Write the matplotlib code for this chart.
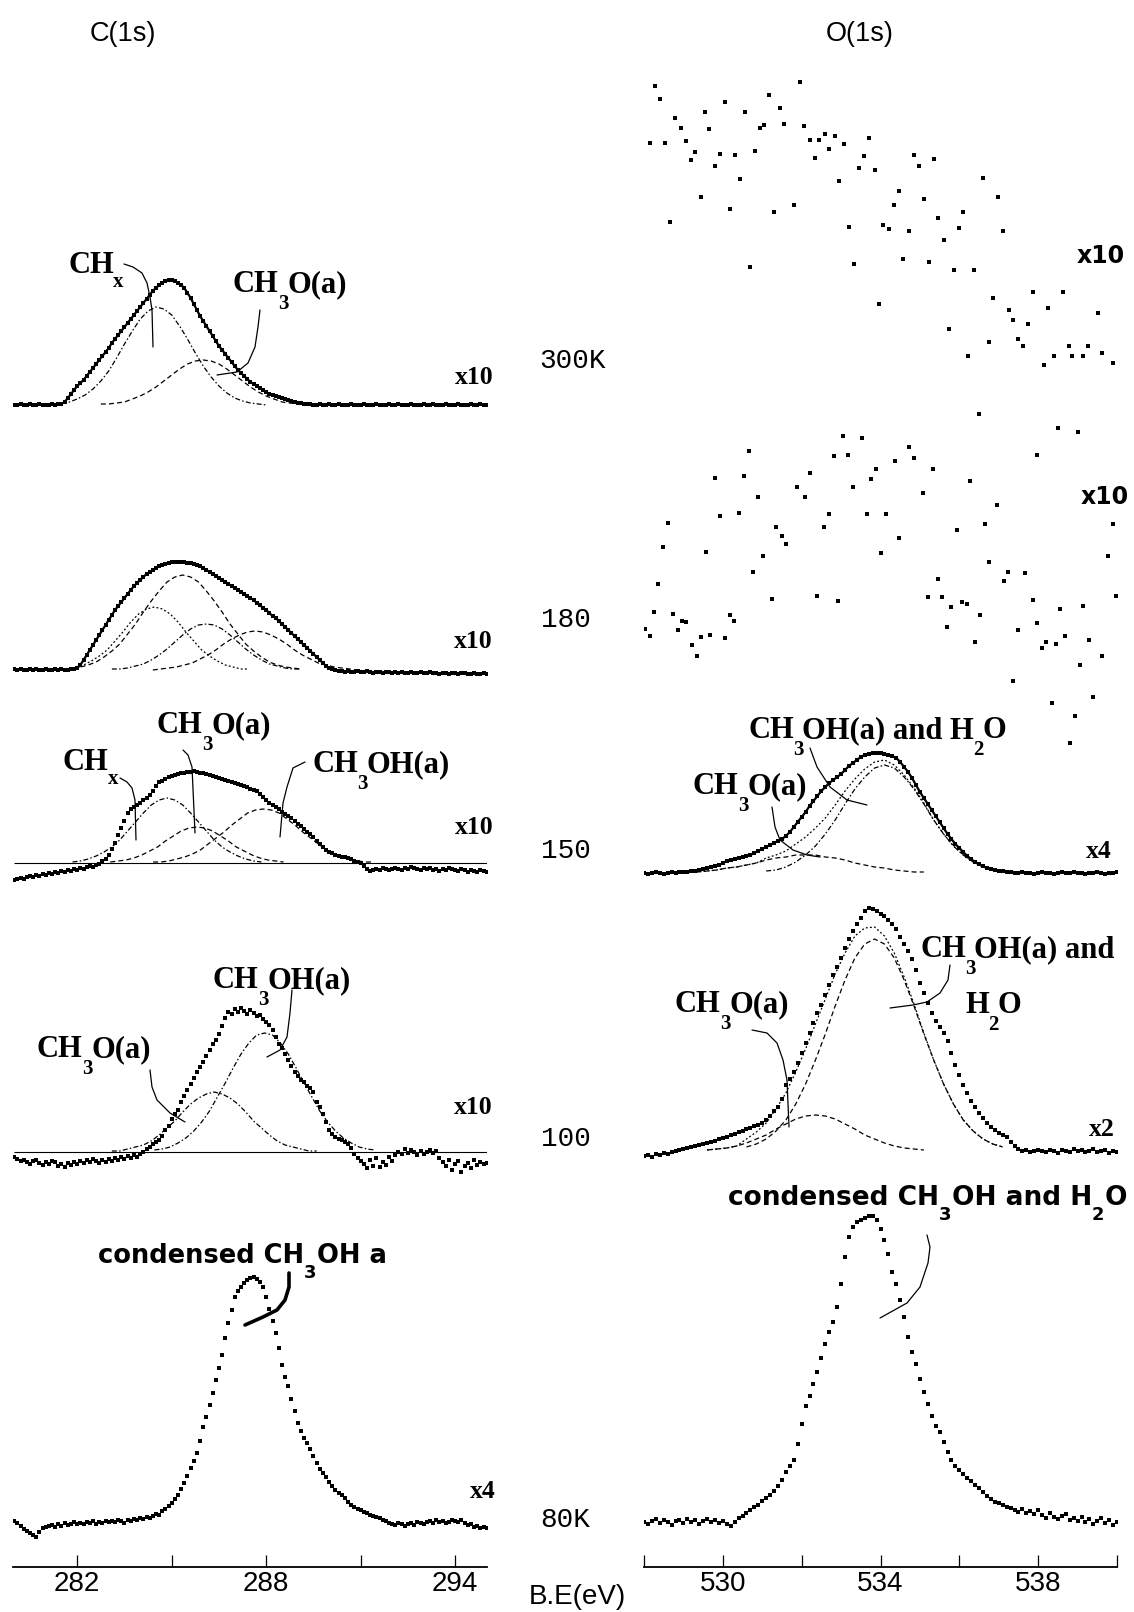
import numpy as np
import matplotlib
matplotlib.use("Agg")
import matplotlib.pyplot as plt
from matplotlib.transforms import Affine2D
from matplotlib.lines import Line2D

# ---------------- data (intensities in arbitrary units above each baseline) ----------------
C_START, C_STEP = 280.0, 0.1
O_START, O_STEP = 528.0, 0.1
FIT_STEP = 0.25

c300_counts = [0,0,1,0,0,1,0,0,1,0,0,
               0,1,0,1,1,3,7,11,15,19,
               22,25,29,33,37,41,45,49,53,57,
               62,66,70,74,78,82,86,90,94,98,
               102,106,110,114,117,120,122,124,125,125,
               124,122,120,117,112,107,101,95,89,84,
               79,74,69,64,59,55,51,47,43,39,
               35,32,29,26,23,21,19,17,15,13,
               11,10,9,8,7,6,5,4,3,2,
               2,1,1,1,0,0,1,0,0,1,
               0,0,1,0,0,0,1,0,0,0,
               1,0,0,0,1,0,0,0,1,0,
               0,1,0,0,0,1,0,0,0,1,
               0,0,1,0,0,0,1,0,0,0,
               1,0,0,0,1,0,0,1,0,0]

c180_counts = [1,0,1,0,0,1,0,1,0,0,1,
               0,0,1,0,1,0,0,1,1,2,
               5,10,15,20,25,30,35,40,45,50,
               55,60,64,68,72,76,80,84,87,90,
               93,96,98,100,102,104,105,106,107,108,
               108,108,108,108,107,107,106,105,104,102,
               100,98,96,94,92,90,88,86,84,82,
               80,78,76,74,72,70,67,65,62,60,
               57,54,52,49,46,43,40,37,34,31,
               28,25,22,19,16,13,10,7,4,2,
               1,0,-1,-1,-2,-1,-2,-2,-1,-2,
               -2,-1,-2,-3,-2,-2,-3,-2,-2,-3,
               -2,-3,-2,-3,-3,-2,-3,-3,-2,-3,
               -3,-2,-3,-3,-4,-3,-3,-4,-3,-3,
               -4,-3,-3,-4,-4,-3,-4,-4,-3,-4]

c150_counts = [-17,-16,-15,-16,-14,-13,-14,-12,-13,-11,-12,
               -10,-11,-9,-10,-8,-9,-7,-8,-6,-7,
               -5,-6,-4,-3,-4,-2,-1,2,4,8,
               14,20,28,35,42,50,54,56,58,60,
               63,65,68,72,77,81,82,84,86,87,
               88,89,90,90,91,91,92,91,90,90,
               89,88,87,86,85,84,83,82,81,80,
               79,78,77,76,74,73,72,69,66,63,
               60,58,56,54,51,49,47,45,42,39,
               37,34,31,29,26,22,19,16,13,11,
               10,8,7,6,6,5,4,2,1,0,
               -3,-6,-8,-7,-6,-7,-5,-6,-7,-6,
               -5,-6,-7,-5,-6,-4,-5,-6,-7,-5,
               -6,-5,-7,-6,-8,-6,-7,-5,-6,-7,
               -8,-6,-7,-9,-7,-8,-9,-7,-8,-9]

c100_counts = [-5,-7,-9,-8,-10,-12,-9,-8,-11,-13,-10,
               -12,-9,-10,-14,-12,-15,-11,-13,-10,-12,
               -9,-11,-8,-10,-7,-9,-11,-8,-10,-7,
               -9,-6,-8,-5,-7,-4,-6,-3,-5,-2,
               0,3,5,8,10,12,16,22,26,33,
               38,42,50,56,62,68,74,80,85,90,
               96,102,108,112,118,126,134,140,138,143,
               140,144,141,138,142,139,136,137,133,130,
               127,122,115,108,104,98,92,86,80,76,
               72,70,66,64,60,50,45,38,30,22,
               18,15,13,12,10,8,4,-2,-6,-9,
               -12,-16,-8,-14,-6,-15,-10,-13,-5,-9,
               -3,0,-2,3,-1,2,0,-3,1,-2,
               0,2,-1,1,-6,-10,-14,-8,-18,-12,
               -9,-20,-14,-11,-16,-8,-13,-10,-12,-11]

c80_counts = [2,0,-3,-6,-8,-10,-12,-14,-9,-5,-4,
              -3,-2,-4,-1,-3,0,-2,-1,1,-1,
              0,-1,1,0,2,-1,1,0,2,1,
              2,1,3,2,0,3,2,4,3,5,
              4,6,5,7,9,8,12,14,17,20,
              24,28,34,40,47,55,62,70,82,96,
              106,118,130,143,155,168,185,200,213,226,
              232,236,240,243,245,246,244,241,236,226,
              214,202,190,175,158,146,137,124,112,100,
              92,85,80,74,67,60,54,50,46,41,
              37,33,30,28,25,21,18,16,14,13,
              11,10,8,7,6,5,3,2,0,-1,
              -2,0,-1,-3,-1,0,-2,1,0,-1,
              1,2,0,3,1,2,0,1,3,2,
              1,3,0,-2,-1,-4,-3,-5,-4,-5]

o150_counts = [0,-1,0,1,0,-1,0,1,0,1,1,
               1,2,2,3,4,5,6,7,8,10,
               12,13,14,15,16,17,18,20,22,24,
               26,28,30,32,34,37,41,46,51,56,
               61,67,72,77,82,86,90,93,96,99,
               103,107,110,113,116,118,119,120,120,120,
               119,118,117,115,111,106,101,95,88,81,
               75,69,63,57,51,45,39,34,29,25,
               21,17,14,11,9,7,5,4,3,2,
               2,1,1,0,0,1,0,0,-1,0,
               1,0,0,-1,0,1,0,0,1,0,
               0,-1,0,0,1,0,-1,0,0,1]

o100_counts = [-5,-4,-6,-3,-4,-2,-3,-1,0,1,2,
               3,4,5,6,7,8,9,10,12,13,
               14,16,17,19,20,22,23,25,26,28,
               31,35,40,44,52,66,72,79,88,98,
               108,118,128,138,146,156,166,176,184,193,
               203,212,220,227,233,240,243,242,240,237,
               235,231,227,222,214,207,200,192,181,168,
               158,148,138,130,124,118,110,98,86,76,
               66,58,50,44,38,33,28,24,21,18,
               16,14,9,5,2,0,1,-1,0,1,
               0,-1,1,0,-2,1,0,-1,2,0,
               1,-1,0,2,-1,0,1,-2,0,-1]

o80_counts = [0,-2,1,3,-1,2,0,-3,1,2,-1,
              3,0,2,-2,1,3,0,2,-1,1,
              -2,-4,0,4,6,9,12,15,17,21,
              24,27,31,36,42,50,56,62,78,98,
              116,126,138,150,164,178,190,200,215,238,
              265,285,295,300,302,304,306,306,302,293,
              282,268,250,238,222,205,185,170,158,143,
              130,118,106,96,90,80,70,62,56,52,
              48,44,41,37,34,30,26,23,20,19,
              17,15,14,12,10,13,9,11,8,12,
              7,4,9,5,3,6,8,2,4,1,
              5,0,3,-2,1,4,-1,2,-3,0]

o300_energy = [528.28,528.41,528.79,528.93,528.15,528.53,529.06,529.30,529.18,529.56,
               529.66,529.93,529.80,530.06,530.31,530.44,530.56,530.81,530.94,531.05,
               531.18,531.45,531.56,531.96,532.06,532.20,532.44,532.59,532.70,532.84,
               532.33,533.08,532.95,533.71,533.59,533.45,533.85,529.44,530.18,528.66,
               530.68,531.31,531.81,533.19,533.34,533.97,534.07,534.21,534.34,534.46,
               534.57,534.73,534.84,534.98,535.11,535.36,535.22,535.47,535.61,535.86,
               535.99,536.10,536.36,536.61,536.98,537.11,535.74,536.23,536.74,536.86,
               537.25,537.37,537.49,537.62,537.73,537.86,538.14,538.26,538.39,538.63,
               538.77,538.87,539.13,539.26,539.51,539.63,539.89]
o300_counts = [319,306,287,277,262,262,264,253,245,293,
               276,251,239,303,250,226,293,254,277,280,
               310,297,281,323,279,265,265,271,256,269,
               247,261,224,267,249,237,235,208,196,183,
               138,193,200,178,141,101,180,176,200,214,
               146,174,250,239,206,246,143,187,165,135,
               177,193,135,227,208,174,76,49,63,107,
               95,85,66,59,81,113,40,97,49,113,
               59,49,49,59,92,52,42]

o180_energy = [536.49,533.06,533.54,530.66,534.73,538.50,539.01,532.81,533.17,534.36,
               534.85,537.98,529.81,530.54,532.20,533.89,535.33,530.88,531.87,532.09,
               533.29,533.76,536.28,535.08,529.94,530.41,532.69,533.66,534.13,536.96,
               536.65,535.94,539.89,528.62,528.47,531.36,531.49,531.60,532.56,534.48,
               534.01,529.57,531.02,536.76,539.76,530.76,537.24,537.66,537.13,535.45,
               528.36,531.25,532.40,532.93,535.20,535.56,535.80,536.08,536.19,537.86,
               538.56,539.15,539.97,536.53,528.25,528.73,528.97,529.06,530.17,530.28,
               528.03,528.14,528.85,529.44,529.68,530.06,529.21,529.34,535.68,537.48,
               537.96,536.41,538.19,538.09,538.46,538.69,539.28,539.62,539.06,537.36,
               538.34,539.40,538.94,538.81]
o180_counts = [256,234,232,219,223,242,238,214,215,209,
               212,215,192,194,197,201,201,173,183,173,
               183,191,189,177,154,157,156,156,156,165,
               146,140,146,147,123,143,134,126,143,132,
               117,118,114,108,114,98,98,97,89,91,
               86,71,74,69,73,73,63,68,66,70,
               61,64,74,55,58,56,49,48,55,49,
               41,34,40,33,35,32,25,14,43,40,
               47,28,28,22,26,34,30,14,5,-11,
               -33,-27,-46,-73]

# fitted components: start energy and values sampled every FIT_STEP eV
c300_chx_start, c300_chx = 281.5, [2,3,6,10,16,24,34,47,61,74,86,94,98,96,90,79,66,52,39,28,19,12,7,4,2,1,0]
c300_ch3o_start, c300_ch3o = 282.75, [1,1,2,3,6,9,13,18,24,30,36,41,44,45,44,41,36,30,24,18,13,9,6,3,2,1,1]

c180_env_start, c180_env = 281.6, [1,2,3,5,8,13,19,26,36,46,58,69,79,88,93,95,93,88,79,69,58,46,36,26,19,13,8,5,3,2,1]
c180_chx_start, c180_chx = 281.45, [1,1,3,5,9,14,20,29,38,48,56,61,63,61,56,48,38,29,20,14,9,5,3,1,1]
c180_ch3o_start, c180_ch3o = 283.1, [1,1,2,4,6,10,15,21,28,35,41,45,46,45,41,35,28,21,15,10,6,4,2,1,1]
c180_ch3oh_start, c180_ch3oh = 284.4, [0,1,2,3,5,7,11,15,20,26,31,35,38,39,38,35,31,26,20,15,11,7,5,3,2,1,0]

c150_chx_start, c150_chx = 281.85, [1,2,4,7,11,16,23,32,41,50,58,63,65,63,58,50,41,32,23,16,11,7,4,2,1]
c150_ch3o_start, c150_ch3o = 283.05, [1,2,3,5,8,12,16,22,27,32,35,36,35,32,27,22,16,12,8,5,3,2,1]
c150_ch3oh_start, c150_ch3oh = 284.41, [1,1,2,4,6,9,13,19,25,31,38,44,50,53,54,53,50,44,38,31,25,19,13,9,6,4,2,1,1]

c100_ch3o_start, c100_ch3o = 283.1, [1,1,3,5,7,11,17,24,31,40,48,54,58,60,58,54,48,40,31,24,17,11,7,5,3,1,1]
c100_ch3oh_start, c100_ch3oh = 284.45, [2,3,5,9,14,21,30,41,55,69,84,98,109,117,119,117,109,98,84,69,55,41,30,21,14,9,5,3,2]

o150_ch3o_start, o150_ch3o = 529.1, [1,1,2,3,5,6,8,10,13,15,16,18,18,18,16,15,13,10,8,6,5,3,2,1,1]
o150_main_start, o150_main = 531.1, [2,3,6,11,18,27,39,53,69,84,96,105,108,105,96,84,69,53,39,27,18,11,6,3,2]
o150_env_start, o150_env = 529.1, [1,1,2,3,5,6,8,10,15,18,22,29,36,45,55,68,82,94,104,111,113,108,98,85,70,53,39,27,18,11,6,3,2]

o100_ch3o_start, o100_ch3o = 529.6, [1,2,3,5,8,12,16,22,27,32,35,36,35,32,27,22,16,12,8,5,3,2,1]
o100_main_start, o100_main = 530.6, [4,7,12,20,31,47,67,91,117,145,171,193,207,212,207,193,171,145,117,91,67,47,31,20,12,7,4]
o100_env_start, o100_env = 529.6, [1,2,3,5,12,19,28,42,58,79,102,127,152,177,198,215,223,224,215,198,174,147,118,91,67,47,31,20,12,7,4]

# vertical offsets of the stacked spectra
off_c300, off_c180, off_c150, off_c100, off_c80 = 1162, 897, 704, 415, 44
off_o300, off_o180, off_o150, off_o100, off_o80 = 1162, 897, 694, 416, 45

c_ticks = [282, 285, 288, 291, 294]
c_ticklabels = ["282", "", "288", "", "294"]
o_ticks = [528, 530, 532, 534, 536, 538, 540]
o_ticklabels = ["", "530", "", "534", "", "538", ""]

# ---------------- figure ----------------
plt.rcParams['font.family'] = ['Liberation Sans', 'DejaVu Sans']

W, H = 1134, 1612
fig = plt.figure(figsize=(W / 100, H / 100), dpi=100)
pix = Affine2D().scale(1 / W, -1 / H).translate(0, 1) + fig.transFigure

YTOP = 1567.0
axC = fig.add_axes([13.3 / W, (H - 1567) / H, (487.3 - 13.3) / W, 1567 / H])
axO = fig.add_axes([644 / W, (H - 1567) / H, (1117 - 644) / W, 1567 / H])
axC.set_xlim(279.97, 295.02)
axO.set_xlim(528.0, 540.0)
for ax, ticks, labels in ((axC, c_ticks, c_ticklabels), (axO, o_ticks, o_ticklabels)):
    ax.set_ylim(0, YTOP)
    for s in ('left', 'right', 'top'):
        ax.spines[s].set_visible(False)
    ax.spines['bottom'].set_linewidth(1.3)
    ax.set_yticks([])
    ax.set_xticks(ticks)
    ax.set_xticklabels(labels)
    ax.tick_params(axis='x', direction='in', length=8.5, width=0.9, pad=3, labelsize=20)
    ax.patch.set_alpha(0)


def grid(start, step, n):
    return start + step * np.arange(n)


def dots(ax, start, step, vals, off, ms=2.9, line=False):
    x = grid(start, step, len(vals))
    y = off + np.asarray(vals, float)
    if line:
        ax.plot(x, y, '-', color='k', lw=1.6, zorder=3)
    ax.plot(x, y, 's', color='k', ms=ms, mew=0, zorder=3)


def comp(ax, start, vals, off, ls, lw=0.9):
    x = grid(start, FIT_STEP, len(vals))
    ax.plot(x, off + np.asarray(vals, float), color='k', lw=lw, ls=ls, zorder=2)


DOT = (0, (1.5, 1.8))
DASH = (0, (4, 2.5))
DDOT = (0, (4, 1.8, 1.2, 1.8))

# C(1s)
dots(axC, C_START, C_STEP, c300_counts, off_c300, line=True)
comp(axC, c300_chx_start, c300_chx, off_c300, DDOT)
comp(axC, c300_ch3o_start, c300_ch3o, off_c300, DASH)

dots(axC, C_START, C_STEP, c180_counts, off_c180, line=True)
comp(axC, c180_env_start, c180_env, off_c180, DASH)
comp(axC, c180_chx_start, c180_chx, off_c180, DOT)
comp(axC, c180_ch3o_start, c180_ch3o, off_c180, DDOT)
comp(axC, c180_ch3oh_start, c180_ch3oh, off_c180, DASH)

dots(axC, C_START, C_STEP, c150_counts, off_c150)
axC.hlines(off_c150, 280.0, 295.0, color='k', lw=0.8)
comp(axC, c150_chx_start, c150_chx, off_c150, DDOT)
comp(axC, c150_ch3o_start, c150_ch3o, off_c150, DASH)
comp(axC, c150_ch3oh_start, c150_ch3oh, off_c150, DASH)

dots(axC, C_START, C_STEP, c100_counts, off_c100)
axC.hlines(off_c100, 280.0, 295.0, color='k', lw=0.8)
comp(axC, c100_ch3o_start, c100_ch3o, off_c100, DDOT)
comp(axC, c100_ch3oh_start, c100_ch3oh, off_c100, DDOT)

dots(axC, C_START, C_STEP, c80_counts, off_c80)

# O(1s)
axO.plot(o300_energy, off_o300 + np.asarray(o300_counts, float), 's', color='k', ms=3.0, mew=0)
axO.plot(o180_energy, off_o180 + np.asarray(o180_counts, float), 's', color='k', ms=3.0, mew=0)

dots(axO, O_START, O_STEP, o150_counts, off_o150, line=True)
comp(axO, o150_ch3o_start, o150_ch3o, off_o150, DASH)
comp(axO, o150_main_start, o150_main, off_o150, DDOT)
comp(axO, o150_env_start, o150_env, off_o150, DOT)

dots(axO, O_START, O_STEP, o100_counts, off_o100, ms=3.2)
comp(axO, o100_ch3o_start, o100_ch3o, off_o100, DASH)
comp(axO, o100_main_start, o100_main, off_o100, DASH)
comp(axO, o100_env_start, o100_env, off_o100, DOT)

dots(axO, O_START, O_STEP, o80_counts, off_o80)


# ---------------- text (positions in reference pixels) ----------------
renderer = fig.canvas.get_renderer()


def ptext(x, y, s, **kw):
    return fig.text(x, y, s, transform=pix, **kw)


def leader(pts, lw=0.9):
    xs, ys = zip(*pts)
    fig.add_artist(Line2D(xs, ys, transform=pix, color='k', lw=lw, solid_capstyle='round'))


SERIF_MAIN = dict(fontsize=22, family='Liberation Serif', weight='bold')
SERIF_SUB = dict(fontsize=15, family='Liberation Serif', weight='bold')
SANS_MAIN = dict(fontsize=18.5, family='DejaVu Sans', weight='bold')
SANS_SUB = dict(fontsize=13, family='DejaVu Sans', weight='bold')


def chem(x, y, parts, main_kw, sub_kw, drop=17, gap=0):
    """parts: list of (string, is_subscript); drawn left to right from (x, baseline y)."""
    for s, sub in parts:
        kw = sub_kw if sub else main_kw
        t = ptext(x, y + (drop if sub else 0), s, ha='left', va='baseline', **kw)
        bb = t.get_window_extent(renderer)
        x = bb.x1 + gap


def serif(x, y, parts, drop=17):
    chem(x, y, parts, SERIF_MAIN, SERIF_SUB, drop=drop, gap=-1)


ptext(123, 34, 'C(1s)', fontsize=19.5, ha='center', va='center', family='Liberation Sans')
ptext(860, 34, 'O(1s)', fontsize=19.5, ha='center', va='center', family='Liberation Sans')
ptext(577, 1597, 'B.E(eV)', fontsize=20, ha='center', va='center', family='Liberation Sans')

MONO = dict(fontsize=20, ha='center', va='center', family='Liberation Mono')
for lab, x, y in (('300K', 573, 361), ('180', 566, 620), ('150', 566, 851),
                  ('100', 566, 1139), ('80K', 565, 1520)):
    ptext(x, y, lab, **MONO)

XS = dict(fontsize=18.5, ha='center', va='center', family='Liberation Serif', weight='bold')
for x, y, s in ((474, 378, 'x10'), (473, 642, 'x10'), (474, 828, 'x10'), (473, 1108, 'x10'),
                (483, 1492, 'x4'), (1099, 852, 'x4'), (1102, 1130, 'x2')):
    ptext(x, y, s, **XS)
for x, y in ((1101, 256), (1105, 497)):
    ptext(x, y, 'x10', fontsize=17, ha='center', va='center', family='DejaVu Sans', weight='bold')

# C 300K
serif(68, 273, [('CH', 0), ('x', 1)], drop=14)
leader([(124, 264), (133, 267), (142, 273), (147, 283), (150, 297), (152, 310), (153, 347)])
serif(233, 292, [('CH', 0), ('3', 1), ('O(a)', 0)])
leader([(260, 310), (258, 327), (255, 347), (248, 363), (237, 372), (217, 375)])
# C 150K
serif(63, 770, [('CH', 0), ('x', 1)], drop=14)
leader([(120, 778), (127, 782), (132, 788), (135, 800), (136, 840)])
serif(157, 733, [('CH', 0), ('3', 1), ('O(a)', 0)])
leader([(183, 750), (188, 755), (192, 767), (195, 833)])
serif(312, 772, [('CH', 0), ('3', 1), ('OH(a)', 0)])
leader([(305, 762), (293, 768), (287, 787), (283, 803), (280, 837)])
# C 100K
serif(213, 988, [('CH', 0), ('3', 1), ('OH(a)', 0)])
leader([(292, 990), (290, 1013), (287, 1037), (280, 1050), (267, 1057)])
serif(37, 1057, [('CH', 0), ('3', 1), ('O(a)', 0)])
leader([(150, 1070), (152, 1087), (157, 1100), (170, 1113), (185, 1122)])
# C 80K
chem(98, 1263, [('condensed CH', 0), ('3', 1), ('OH a', 0)], SANS_MAIN, SANS_SUB, drop=15, gap=0)
leader([(289, 1273), (289, 1287), (285, 1300), (277, 1310), (263, 1317), (245, 1325)], lw=2.6)
# O 150K
serif(748, 738, [('CH', 0), ('3', 1), ('OH(a) and H', 0), ('2', 1), ('O', 0)])
leader([(810, 748), (817, 767), (830, 787), (847, 800), (867, 805)])
serif(693, 794, [('CH', 0), ('3', 1), ('O(a)', 0)])
leader([(772, 807), (775, 827), (780, 840), (793, 850), (807, 855), (820, 857)])
# O 100K
serif(920, 957, [('CH', 0), ('3', 1), ('OH(a) and', 0)])
serif(965, 1013, [('H', 0), ('2', 1), ('O', 0)])
leader([(950, 965), (948, 980), (940, 993), (927, 1002), (913, 1005), (890, 1008)])
serif(675, 1012, [('CH', 0), ('3', 1), ('O(a)', 0)])
leader([(752, 1030), (767, 1033), (777, 1043), (783, 1060), (787, 1080), (789, 1127)])
# O 80K
chem(728, 1205, [('condensed CH', 0), ('3', 1), ('OH and H', 0), ('2', 1), ('O', 0)],
     dict(SANS_MAIN, fontsize=19), SANS_SUB, drop=15, gap=0)
leader([(927, 1235), (930, 1247), (928, 1263), (920, 1287), (907, 1303), (880, 1318)])

fig.savefig('out.png', dpi=100)
